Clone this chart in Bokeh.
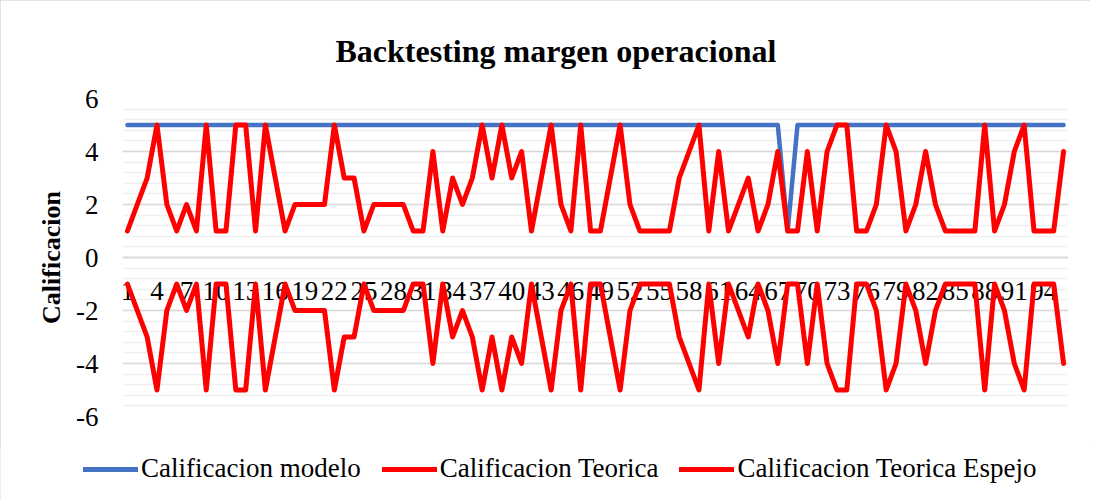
from bokeh.plotting import figure
from bokeh.layouts import column
from bokeh.models import Range1d, FixedTicker, Legend, LegendItem, ColumnDataSource
from bokeh.embed import file_html
from bokeh.resources import INLINE

# ---- data ----
periodos = list(range(1, 97))
calificacion_modelo = [5, 5, 5, 5, 5, 5, 5, 5, 5, 5,
                       5, 5, 5, 5, 5, 5, 5, 5, 5, 5,
                       5, 5, 5, 5, 5, 5, 5, 5, 5, 5,
                       5, 5, 5, 5, 5, 5, 5, 5, 5, 5,
                       5, 5, 5, 5, 5, 5, 5, 5, 5, 5,
                       5, 5, 5, 5, 5, 5, 5, 5, 5, 5,
                       5, 5, 5, 5, 5, 5, 5, 1, 5, 5,
                       5, 5, 5, 5, 5, 5, 5, 5, 5, 5,
                       5, 5, 5, 5, 5, 5, 5, 5, 5, 5,
                       5, 5, 5, 5, 5, 5]
calificacion_teorica = [1, 2, 3, 5, 2, 1, 2, 1, 5, 1,
                        1, 5, 5, 1, 5, 3, 1, 2, 2, 2,
                        2, 5, 3, 3, 1, 2, 2, 2, 2, 1,
                        1, 4, 1, 3, 2, 3, 5, 3, 5, 3,
                        4, 1, 3, 5, 2, 1, 5, 1, 1, 3,
                        5, 2, 1, 1, 1, 1, 3, 4, 5, 1,
                        4, 1, 2, 3, 1, 2, 4, 1, 1, 4,
                        1, 4, 5, 5, 1, 1, 2, 5, 4, 1,
                        2, 4, 2, 1, 1, 1, 1, 5, 1, 2,
                        4, 5, 1, 1, 1, 4]
calificacion_espejo = [-1, -2, -3, -5, -2, -1, -2, -1, -5, -1,
                       -1, -5, -5, -1, -5, -3, -1, -2, -2, -2,
                       -2, -5, -3, -3, -1, -2, -2, -2, -2, -1,
                       -1, -4, -1, -3, -2, -3, -5, -3, -5, -3,
                       -4, -1, -3, -5, -2, -1, -5, -1, -1, -3,
                       -5, -2, -1, -1, -1, -1, -3, -4, -5, -1,
                       -4, -1, -2, -3, -1, -2, -4, -1, -1, -4,
                       -1, -4, -5, -5, -1, -1, -2, -5, -4, -1,
                       -2, -4, -2, -1, -1, -1, -1, -5, -1, -2,
                       -4, -5, -1, -1, -1, -4]
series_names = ["Calificacion modelo", "Calificacion Teorica", "Calificacion Teorica Espejo"]
x_ticks = list(range(1, 97, 3))
y_ticks = [-6, -4, -2, 0, 2, 4, 6]
y_tick_labels = ["-6", "-4", "-2", "0", "2", "4", "6"]
y_minor = [round(-6 + 0.4 * k, 1) for k in range(31)]

FONT = "Liberation Serif"
BLUE = "#4472C4"
RED = "#FF0000"

src = ColumnDataSource(dict(x=periodos, modelo=calificacion_modelo,
                            teorica=calificacion_teorica, espejo=calificacion_espejo))

p = figure(width=1090, height=446, output_backend="svg", toolbar_location=None,
           x_range=Range1d(0.5, 96.5), y_range=Range1d(-6, 6),
           min_border_left=122, min_border_right=22, min_border_top=98, min_border_bottom=30,
           title="Backtesting margen operacional")
p.frame_align = False
p.outline_line_color = None

# title
p.title.text_font = FONT
p.title.text_font_size = "32px"
p.title.text_font_style = "bold"
p.title.text_color = "black"
p.title.align = "left"
p.title.offset = 213
p.title.standoff = 60

# grids
p.xgrid.visible = False
p.ygrid.ticker = FixedTicker(ticks=y_ticks, minor_ticks=y_minor)
p.ygrid.grid_line_color = "#d9d9d9"
p.ygrid.grid_line_width = 1.5
p.ygrid.minor_grid_line_color = "#efefef"
p.ygrid.minor_grid_line_width = 1.5

# y axis
p.yaxis.ticker = FixedTicker(ticks=y_ticks)
p.yaxis.major_label_overrides = dict(zip(y_ticks, y_tick_labels))
p.yaxis.axis_line_color = None
p.yaxis.major_tick_line_color = None
p.yaxis.minor_tick_line_color = None
p.yaxis.major_tick_out = 0
p.yaxis.major_label_standoff = 24
p.yaxis.major_label_text_font = FONT
p.yaxis.major_label_text_font_size = "27px"
p.yaxis.major_label_text_color = "black"
p.yaxis.axis_label = "Calificacion"
p.yaxis.axis_label_text_font = FONT
p.yaxis.axis_label_text_font_size = "26px"
p.yaxis.axis_label_text_font_style = "bold"
p.yaxis.axis_label_text_color = "black"
p.yaxis.axis_label_standoff = 7

# x axis at y = 0
p.xaxis.fixed_location = 0
p.xaxis.ticker = FixedTicker(ticks=x_ticks)
p.xaxis.axis_line_color = "#d9d9d9"
p.xaxis.axis_line_width = 1.5
p.xaxis.major_tick_line_color = None
p.xaxis.minor_tick_line_color = None
p.xaxis.major_tick_out = 0
p.xaxis.major_label_standoff = 24
p.xaxis.major_label_text_font = FONT
p.xaxis.major_label_text_font_size = "27px"
p.xaxis.major_label_text_color = "black"

p.line("x", "modelo", source=src, line_color=BLUE, line_width=4.5,
       line_join="round", line_cap="round", level="overlay")
p.line("x", "teorica", source=src, line_color=RED, line_width=5,
       line_join="round", line_cap="round", level="overlay")
p.line("x", "espejo", source=src, line_color=RED, line_width=5,
       line_join="round", line_cap="round", level="overlay")

# ---- legend strip (own figure so it is not clipped by the plot frame) ----
# the series are plotted here too, but the y range lies outside their values,
# so only the legend samples are visible
lg = figure(width=1090, height=54, output_backend="svg", toolbar_location=None,
            x_range=Range1d(0.5, 96.5), y_range=Range1d(100, 101),
            x_axis_type=None, y_axis_type=None,
            min_border_left=0, min_border_right=0, min_border_top=0, min_border_bottom=0)
lg.frame_align = False
lg.outline_line_color = None
lg.xgrid.visible = False
lg.ygrid.visible = False
l1 = lg.line("x", "modelo", source=src, line_color=BLUE, line_width=5, line_cap="round")
l2 = lg.line("x", "teorica", source=src, line_color=RED, line_width=5, line_cap="round")
l3 = lg.line("x", "espejo", source=src, line_color=RED, line_width=5, line_cap="round")

legend = Legend(items=[LegendItem(label=series_names[0], renderers=[l1]),
                       LegendItem(label=series_names[1], renderers=[l2]),
                       LegendItem(label=series_names[2], renderers=[l3])],
                orientation="horizontal", location=(83, 16),
                label_text_font=FONT, label_text_font_size="27px", label_text_color="black",
                glyph_width=55, glyph_height=30, label_height=30, label_standoff=3,
                spacing=21, padding=0, margin=0, border_line_color=None,
                background_fill_alpha=0)
lg.add_layout(legend, "center")

layout = column(p, lg, spacing=0)
layout.styles = {"outline": "1.5px solid #d9d9d9", "outline-offset": "-1px"}

open("out.html", "w").write(file_html(layout, INLINE))
